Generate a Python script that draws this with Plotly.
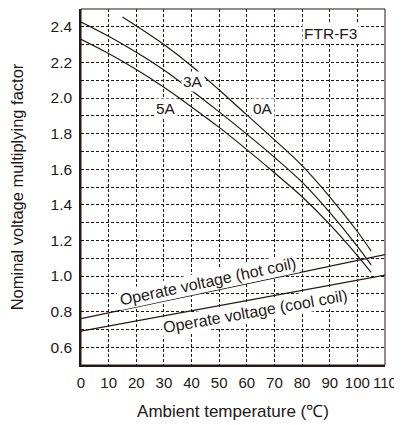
import plotly.graph_objects as go

# ---- data ----
temps_0A = [15, 20, 30, 40, 50, 60, 70, 80, 90, 100, 105]
factor_0A = [2.455, 2.405, 2.30, 2.18, 2.045, 1.905, 1.765, 1.62, 1.445, 1.25, 1.14]

temps_3A = [0, 10, 20, 30, 40, 50, 60, 70, 80, 90, 100, 105]
factor_3A = [2.427, 2.347, 2.257, 2.157, 2.042, 1.922, 1.797, 1.667, 1.527, 1.357, 1.167, 1.062]

temps_5A = [0, 10, 20, 30, 40, 50, 60, 70, 80, 90, 100, 105]
factor_5A = [2.33, 2.25, 2.16, 2.06, 1.95, 1.835, 1.71, 1.58, 1.445, 1.29, 1.115, 1.02]

coil_temps = [0, 110]
hot_coil = [0.76, 1.12]
cool_coil = [0.69, 1.005]

x_ticks = [0, 10, 20, 30, 40, 50, 60, 70, 80, 90, 100, 110]
x_ticklabels = [str(v) for v in x_ticks]
y_ticks = [0.6, 0.8, 1.0, 1.2, 1.4, 1.6, 1.8, 2.0, 2.2, 2.4]
y_ticklabels = ["0.6", "0.8", "1.0", "1.2", "1.4", "1.6", "1.8", "2.0", "2.2", "2.4"]

INK = "#231815"
FONT = "Liberation Sans, Arial, sans-serif"

fig = go.Figure()
for xs, ys in [(temps_0A, factor_0A), (temps_3A, factor_3A), (temps_5A, factor_5A)]:
    fig.add_trace(go.Scatter(x=xs, y=ys, mode="lines",
                             line=dict(color=INK, width=1.2, shape="spline", smoothing=1.0),
                             hoverinfo="skip", showlegend=False))
for ys in [hot_coil, cool_coil]:
    fig.add_trace(go.Scatter(x=coil_temps, y=ys, mode="lines",
                             line=dict(color=INK, width=1.2),
                             hoverinfo="skip", showlegend=False))

grid = dict(showgrid=True, gridcolor=INK, gridwidth=1, griddash="3px,2px")

# page body adds an 8px offset, so the figure is 8px smaller than the window
fig.update_layout(
    width=394, height=417,
    margin=dict(l=73, r=17, t=1, b=60, autoexpand=False),
    paper_bgcolor="white", plot_bgcolor="white",
    font=dict(family=FONT, color=INK, size=15),
    xaxis=dict(range=[0, 110], tickvals=x_ticks, ticktext=x_ticklabels,
               showline=True, linecolor=INK, linewidth=1.5, ticks="",
               zeroline=False, tickfont=dict(size=15), tickangle=0,
               ticklabelstandoff=3, automargin=False,
               title=dict(text="Ambient temperature (℃)", font=dict(size=17), standoff=15),
               **grid),
    yaxis=dict(range=[0.5, 2.5], tickvals=y_ticks, ticktext=y_ticklabels,
               showline=True, linecolor=INK, linewidth=1.5, ticks="",
               zeroline=False, tickfont=dict(size=15.5), ticklabelstandoff=4,
               automargin=False,
               minor=dict(dtick=0.1, tick0=0.5, showgrid=True, gridcolor=INK,
                          gridwidth=1, griddash="3px,2px", ticks=""),
               title=dict(text="Nominal voltage multiplying factor", font=dict(size=16.5), standoff=27),
               **grid),
    shapes=[dict(type="rect", xref="paper", yref="paper", x0=0, x1=1, y0=0, y1=1,
                 line=dict(color=INK, width=1), layer="above")],
)

labels = [
    ("FTR-F3", 90.1, 2.36, 0),
    ("3A", 40.5, 2.09, 0),
    ("5A", 30.8, 1.94, 0),
    ("0A", 65.9, 1.94, 0),
    ("Operate voltage (hot coil)", 46, 0.97, -12),
    ("Operate voltage (cool coil)", 63, 0.80, -10),
]
for text, x, y, ang in labels:
    fig.add_annotation(x=x, y=y, text=text, showarrow=False, textangle=ang,
                       font=dict(size=16 if ang else 15.5, color=INK, family=FONT),
                       bgcolor="white", borderpad=1)

fig.write_html("out.html")
